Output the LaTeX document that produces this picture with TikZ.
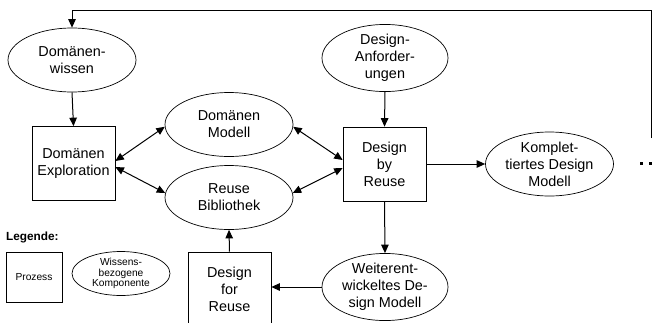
\documentclass[tikz,border=0pt]{standalone}
\usepackage{fontspec}
\setmainfont{Liberation Sans}
\usetikzlibrary{arrows.meta,calc,shapes.geometric}
\begin{document}
\begin{tikzpicture}[x=1pt,y=-1pt,
  every node/.style={font=\fontsize{14.4}{17}\selectfont, align=center, inner sep=0pt},
  knowledge/.style={draw, ellipse, line width=0.7pt, minimum width=128pt, minimum height=64pt},
  process/.style={draw, rectangle, line width=0.7pt, minimum width=83pt, minimum height=74pt},
  flow/.style={line width=1pt, -{Triangle[length=8.5pt,width=7.5pt]}},
  biflow/.style={line width=1pt, {Triangle[length=8.5pt,width=7.5pt]}-{Triangle[length=8.5pt,width=7.5pt]}},
  small/.style={font=\fontsize{10.2}{10.8}\selectfont}]
\useasboundingbox (0,0) rectangle (654,322);
\begin{scope}
\clip (0,0) rectangle (654,322);

% knowledge components
\node[knowledge] (dw) at (72,60) {Domänen-\\wissen};
\node[knowledge] (dm) at (229,124.5) {Domänen\\Modell};
\node[knowledge] (rb) at (229,197.5) {Reuse\\Bibliothek};
\node[knowledge, minimum width=126pt, minimum height=66pt] (da) at (385,58) {Design-\\Anforder-\\ungen};
\node[knowledge] (km) at (549.5,164) {Komplet-\\tiertes Design\\Modell};
\node[knowledge, minimum width=126pt, minimum height=62pt] (wm) at (385,287) {Weiterent-\\wickeltes De-\\sign Modell};

% processes
\node[process] (de) at (73.5,163.5) {Domänen\\Exploration};
\node[process] (dbr) at (384.5,164) {Design\\by\\Reuse};
\node[process] (dfr) at (229.5,289) {Design\\for\\Reuse};

% continuation marks
\fill (639.5,161.5) rectangle (642.5,164.5);
\fill (648.5,161.5) rectangle (651.5,164.5);
\coordinate (back) at (651,138);

% connectors
\draw[flow] (back) |- (72,10) -- (dw.north);
\draw[flow] (dw.south) -- (de.north);
\draw[flow] (da.south) -- (dbr.north);
\draw[biflow] ($(de.east)+(0,-2.5)$) -- (dm.182);
\draw[biflow] ($(de.east)+(0,3.5)$) -- (rb.176);
\draw[biflow] (dm.-2) -- ($(dbr.west)+(0,-4)$);
\draw[biflow] (rb.4) -- ($(dbr.west)+(0,4)$);
\draw[flow] (dbr.east) -- (km.west);
\draw[flow] (dbr.south) -- (wm.north);
\draw[flow] (wm.west) -- (dfr.east |- wm.west);
\draw[flow] (dfr.north) -- (rb.south);

% legend
\node[anchor=west, font=\bfseries\fontsize{11.8}{13}\selectfont] (lg) at (6,237) {Legende:};
\node[draw, rectangle, line width=0.7pt, minimum width=56pt, minimum height=50pt, small] (lp) at (34,277) {Prozess};
\node[draw, ellipse, line width=0.7pt, minimum width=98pt, minimum height=43pt, small] (lk) at (121,273.5) {Wissens-\\bezogene\\Komponente};
\end{scope}
\end{tikzpicture}
\end{document}
